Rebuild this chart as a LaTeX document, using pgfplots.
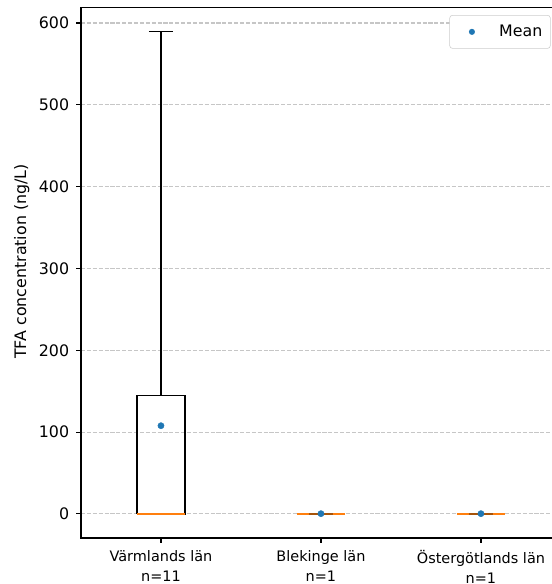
\documentclass[border=0pt]{standalone}
\usepackage{pgfplots}
\pgfplotsset{compat=1.18}
\usetikzlibrary{calc}
\usepackage{fontspec}
\setmainfont{DejaVu Sans}
\definecolor{mplblue}{HTML}{1F77B4}
\definecolor{mplorange}{HTML}{FF7F0E}
\begin{document}
\fontsize{10}{12}\selectfont
\begin{tikzpicture}
\begin{axis}[
  name=ax,
  at={(0,0)}, anchor=south west,
  scale only axis,
  width=345.6pt, height=382.3pt,
  xmin=0.5, xmax=3.5,
  ymin=-29.5, ymax=619.5,
  xtick={1,2,3},
  xticklabels={{Värmlands län\\n=11},{Blekinge län\\n=1},{Östergötlands län\\n=1}},
  xticklabel style={align=center, font=\fontsize{10.4}{14.4}\selectfont, yshift=-2pt},
  ytick={0,100,200,300,400,500,600},
  yticklabel style={font=\fontsize{11.4}{13.7}\selectfont, xshift=-1.5pt},
  /pgf/number format/assume math mode=true,
  xtick pos=bottom, ytick pos=left,
  tick align=outside,
  major tick length=3.5pt,
  tick style={black, line width=0.8pt},
  axis line style={line width=0.8pt},
  ymajorgrids=true,
  major grid style={gray!45, line width=0.8pt, dash pattern=on 2.96pt off 1.28pt},
  ylabel={TFA concentration (ng/L)},
  ylabel style={at={(axis description cs:-0.1235,0.5207)}, anchor=center, font=\fontsize{11.4}{13.7}\selectfont},
  legend style={at={(0.9785,0.985)}, anchor=north east, draw=black!20, fill=white,
    rounded corners=2pt,
    font=\fontsize{11.4}{13.7}\selectfont, inner xsep=3.8pt, inner ysep=5pt,
    nodes={inner sep=2pt}},
  legend cell align=left,
  legend image code/.code={\path[draw=none, fill=none] (0pt,-2pt) rectangle (29.8pt,2pt); \fill[mplblue, draw=none] (12.2pt,0pt) circle (2.2pt);},
]
% Värmlands län: box Q1=0, median=0, Q3=145, whiskers 0..590
\addplot[forget plot, black, line width=1pt, mark=none] coordinates {(0.85,0) (1.15,0) (1.15,145) (0.85,145) (0.85,0)};
\addplot[forget plot, black, line width=1pt, mark=none] coordinates {(1,145) (1,590)};
\addplot[forget plot, black, line width=1pt, mark=none] coordinates {(0.925,590) (1.075,590)};
\addplot[forget plot, black, line width=1pt, mark=none] coordinates {(0.925,0) (1.075,0)};
\addplot[forget plot, mplorange, line width=1.5pt, mark=none] coordinates {(0.85,0) (1.15,0)};
% Blekinge län: single value 0
\addplot[forget plot, black, line width=1pt, mark=none] coordinates {(1.85,0) (2.15,0)};
\addplot[forget plot, mplorange, line width=1.5pt, mark=none] coordinates {(1.85,0) (2.15,0)};
\addplot[forget plot, black!35!mplorange, line width=1.5pt, mark=none] coordinates {(1.925,0) (2.075,0)};
% Östergötlands län: single value 0
\addplot[forget plot, black, line width=1pt, mark=none] coordinates {(2.85,0) (3.15,0)};
\addplot[forget plot, mplorange, line width=1.5pt, mark=none] coordinates {(2.85,0) (3.15,0)};
\addplot[forget plot, black!35!mplorange, line width=1.5pt, mark=none] coordinates {(2.925,0) (3.075,0)};
% means
\addplot[only marks, mark=*, mark size=2.2pt, mplblue, mark options={draw=mplblue, fill=mplblue}] coordinates {(1,107.8) (2,0.3) (3,0.3)};
\addlegendentry{Mean}
\end{axis}
\pgfresetboundingbox
\useasboundingbox ($(ax.south west)+(-58.3pt,-33.1pt)$) rectangle ($(ax.south west)+(339.1pt,387.4pt)$);
\end{tikzpicture}
\end{document}
